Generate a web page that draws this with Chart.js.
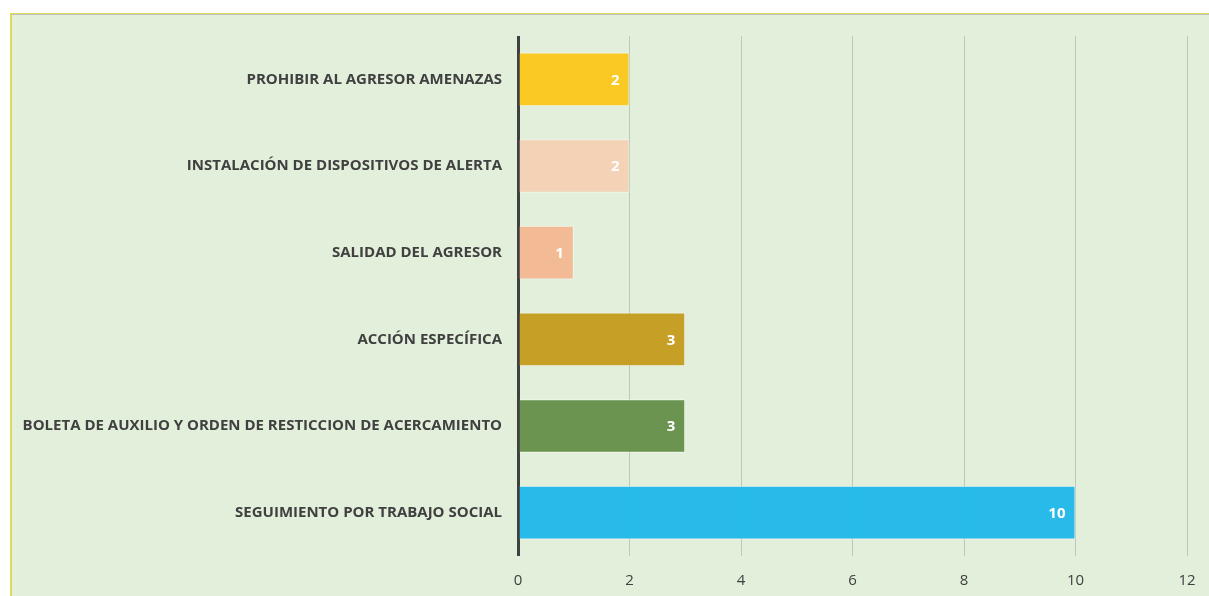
<!DOCTYPE html>
<html>
<head>
<meta charset="utf-8">
<script src="https://cdn.jsdelivr.net/npm/chart.js@4"></script>
<style>
  html, body { margin: 0; padding: 0; background: #fff; }
  #wrap { width: 1209px; height: 596px; position: relative; }
</style>
</head>
<body>
<div id="wrap"><canvas id="grafico" width="1209" height="596"></canvas></div>
<script>
const categorias = [
  'PROHIBIR AL AGRESOR AMENAZAS',
  'INSTALACIÓN DE DISPOSITIVOS DE ALERTA',
  'SALIDAD DEL AGRESOR',
  'ACCIÓN ESPECÍFICA',
  'BOLETA DE AUXILIO Y ORDEN DE RESTICCION DE ACERCAMIENTO',
  'SEGUIMIENTO POR TRABAJO SOCIAL'
];
const valores = [2, 2, 1, 3, 3, 10];
const colores = ['#FAC71F', '#F3D1B5', '#F2B994', '#C49C22', '#66914B', '#22B9EA'];
const ticksX = [0, 2, 4, 6, 8, 10, 12];

const fondo = {
  id: 'fondo',
  beforeDraw(chart) {
    const c = chart.ctx;
    c.save();
    c.fillStyle = '#E2EFDA';
    c.fillRect(10, 13, chart.width - 10, chart.height - 13);
    c.fillStyle = '#DCDC5A';
    c.fillRect(10, 13, chart.width - 10, 1);
    c.fillRect(10, 13, 2, chart.height - 13);
    c.fillStyle = '#BFBFBF';
    c.fillRect(12, 14, chart.width - 12, 1);
    c.restore();
  }
};

const etiquetas = {
  id: 'etiquetas',
  afterDatasetsDraw(chart) {
    const c = chart.ctx;
    const meta = chart.getDatasetMeta(0);
    c.save();
    c.fillStyle = '#ffffff';
    c.font = 'bold 15px "Open Sans", sans-serif';
    c.textAlign = 'right';
    c.textBaseline = 'middle';
    meta.data.forEach((bar, i) => {
      c.fillText(String(valores[i]), bar.x - 10, bar.y + 1);
    });
    c.restore();
  }
};

new Chart(document.getElementById('grafico'), {
  type: 'bar',
  data: {
    labels: categorias,
    datasets: [{
      data: valores,
      backgroundColor: colores.map(c => c + 'F8'),
      borderColor: 'rgba(255,255,255,0.55)',
      borderWidth: 1,
      borderSkipped: 'start',
      categoryPercentage: 0.62,
      barPercentage: 1
    }]
  },
  options: {
    indexAxis: 'y',
    responsive: false,
    animation: false,
    layout: { padding: { top: 36, right: 22, left: 0, bottom: 0 } },
    plugins: { legend: { display: false }, tooltip: { enabled: false } },
    scales: {
      x: {
        min: 0,
        max: 12,
        afterBuildTicks(axis) { axis.ticks = ticksX.map(v => ({ value: v })); },
        afterFit(axis) {
          axis.height = 40;
          axis.paddingLeft = 0;
          axis.paddingRight = 0;
        },
        grid: {
          drawTicks: false,
          color: ctx => ctx.tick && ctx.tick.value === 0 ? '#404040' : '#BFC7B8',
          lineWidth: ctx => ctx.tick && ctx.tick.value === 0 ? 3 : 1
        },
        border: { display: false },
        ticks: {
          color: '#404040',
          padding: 16,
          font: { family: '"Open Sans", sans-serif', size: 15 }
        }
      },
      y: {
        afterFit(axis) { axis.width = 518; },
        grid: { display: false },
        border: { display: false },
        ticks: {
          color: '#404040',
          padding: 8,
          font: { family: '"Open Sans", sans-serif', size: 15, weight: 'bold' }
        }
      }
    }
  },
  plugins: [fondo, etiquetas]
});
</script>
</body>
</html>
